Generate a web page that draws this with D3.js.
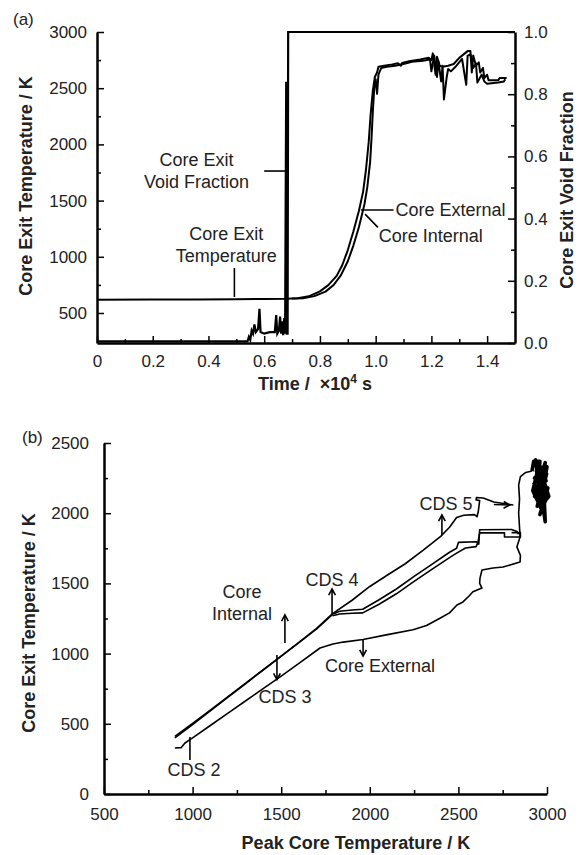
<!DOCTYPE html>
<html>
<head>
<meta charset="utf-8">
<script src="https://cdn.jsdelivr.net/npm/d3@7"></script>
<style>
  body { margin: 0; background: #fff; }
  svg { font-family: "Liberation Sans", Arial, sans-serif; }
</style>
</head>
<body>
<svg id="chart" width="586" height="855"></svg>
<script>
'use strict';

// ---- data, panel (a): time in 1e4 s ----
const timeTicks = [0, 0.2, 0.4, 0.6, 0.8, 1.0, 1.2, 1.4];
const timeMinor = [0.1, 0.3, 0.5, 0.7, 0.9, 1.1, 1.3];
const tempTicksA = [500, 1000, 1500, 2000, 2500, 3000];
const tempMinorA = [750, 1250, 1750, 2250, 2750];
const voidTicks = [0, 0.2, 0.4, 0.6, 0.8, 1.0];
const voidMinor = [0.1, 0.3, 0.5, 0.7, 0.9];

// core exit temperature, external channel [t, K]
const tempExternal = [[0, 618], [0.2, 619], [0.36, 621], [0.5, 623], [0.6, 625], [0.68, 627],
  [0.72, 632], [0.76, 648], [0.8, 692], [0.83, 748], [0.86, 830], [0.88, 925], [0.9, 1060],
  [0.92, 1225], [0.94, 1410], [0.955, 1580], [0.965, 1770], [0.975, 2020], [0.982, 2270],
  [0.99, 2480], [0.997, 2600], [1.005, 2640], [1.01, 2690], [1.03, 2700], [1.06, 2712],
  [1.08, 2722], [1.09, 2700], [1.095, 2725], [1.12, 2740], [1.16, 2755], [1.19, 2770],
  [1.2, 2750], [1.205, 2810], [1.215, 2620], [1.22, 2780], [1.23, 2700], [1.24, 2690],
  [1.26, 2700], [1.28, 2715], [1.3, 2770], [1.32, 2810], [1.33, 2830], [1.34, 2830],
  [1.345, 2640], [1.35, 2790], [1.36, 2700], [1.37, 2730], [1.375, 2640], [1.385, 2680],
  [1.39, 2590], [1.4, 2620], [1.405, 2570], [1.44, 2570], [1.445, 2590], [1.47, 2590]];

// core exit temperature, internal channel [t, K]
const tempInternal = [[0.7, 628], [0.74, 632], [0.78, 650], [0.82, 690], [0.85, 752],
  [0.875, 835], [0.9, 960], [0.92, 1100], [0.94, 1265], [0.96, 1470], [0.97, 1620],
  [0.98, 1840], [0.985, 2050], [0.99, 2300], [0.995, 2500], [1.0, 2580], [1.005, 2450],
  [1.01, 2620], [1.02, 2680], [1.04, 2690], [1.07, 2700], [1.1, 2715], [1.13, 2735],
  [1.17, 2745], [1.195, 2755], [1.2, 2650], [1.21, 2790], [1.22, 2600], [1.225, 2740],
  [1.235, 2560], [1.24, 2700], [1.245, 2400], [1.255, 2600], [1.26, 2670], [1.27, 2650],
  [1.29, 2700], [1.31, 2760], [1.325, 2530], [1.33, 2790], [1.34, 2800], [1.35, 2680],
  [1.36, 2720], [1.365, 2550], [1.38, 2620], [1.39, 2560], [1.4, 2540], [1.44, 2550],
  [1.46, 2560], [1.465, 2580]];

// core exit void fraction [t, -]
const voidFraction = [[0, 0.005], [0.3, 0.005], [0.54, 0.005], [0.545, 0.02], [0.55, 0.01],
  [0.555, 0.04], [0.56, 0.03], [0.565, 0.06], [0.57, 0.035], [0.578, 0.045], [0.583, 0.11],
  [0.587, 0.035], [0.6, 0.03], [0.62, 0.035], [0.638, 0.035], [0.643, 0.09], [0.647, 0.03],
  [0.653, 0.04], [0.657, 0.085], [0.661, 0.03], [0.665, 0.07], [0.668, 0.025], [0.672, 0.08],
  [0.675, 0.03], [0.679, 0.84], [0.681, 0.03], [0.684, 0.03], [0.686, 1.0], [1.5, 1.0]];

// ---- data, panel (b): peak core temperature vs core exit temperature ----
const peakTicks = [500, 1000, 1500, 2000, 2500, 3000];
const peakMinor = [750, 1250, 1750, 2250, 2750];
const tempTicksB = [0, 500, 1000, 1500, 2000, 2500];
const tempMinorB = [250, 750, 1250, 1750, 2250];

const internalUpper = [[900, 400], [1000, 495], [1100, 592], [1200, 690], [1300, 787],
  [1400, 885], [1500, 982], [1600, 1080], [1700, 1180], [1790, 1285], [1900, 1380],
  [2000, 1478], [2100, 1560], [2200, 1640], [2300, 1735], [2400, 1835], [2450, 1900],
  [2490, 1970], [2530, 1985], [2590, 1990], [2605, 1975], [2612, 2010], [2620, 2090],
  [2600, 2095], [2602, 2112], [2640, 2108], [2700, 2080], [2810, 2058]];

const internalLowerA = [[900, 410], [1000, 502], [1100, 598], [1200, 694], [1300, 790],
  [1400, 886], [1500, 982], [1600, 1078], [1700, 1176], [1790, 1280], [1830, 1302],
  [1900, 1310], [1960, 1316], [2050, 1382], [2150, 1460], [2250, 1550], [2350, 1636],
  [2450, 1722], [2490, 1750], [2500, 1792], [2600, 1797], [2615, 1780], [2620, 1882],
  [2800, 1884], [2830, 1870], [2840, 1850]];

const internalLowerB = [[1790, 1270], [1830, 1282], [1900, 1287], [1960, 1290], [2050, 1350],
  [2150, 1426], [2250, 1514], [2350, 1600], [2450, 1684], [2490, 1716], [2540, 1752],
  [2600, 1762], [2610, 1790], [2620, 1860], [2760, 1860], [2760, 1830], [2850, 1830],
  [2850, 1862], [2800, 1862]];

const externalCurve = [[900, 328], [935, 330], [957, 363], [1000, 400], [1100, 488],
  [1200, 576], [1300, 664], [1400, 752], [1500, 840], [1600, 930], [1719, 1040],
  [1792, 1068], [1850, 1082], [1962, 1100], [2100, 1135], [2244, 1170], [2320, 1200],
  [2396, 1252], [2450, 1290], [2492, 1346], [2526, 1368], [2560, 1410], [2582, 1440],
  [2633, 1467], [2620, 1500], [2622, 1538], [2633, 1595], [2695, 1610], [2752, 1617],
  [2848, 1652], [2850, 1700], [2830, 1760], [2848, 1830], [2845, 1900], [2840, 2000],
  [2845, 2100], [2840, 2200], [2850, 2260], [2880, 2290], [2915, 2300]];

const peakCluster = [[2915, 2300], [2925, 2370], [2960, 2370], [2950, 2200], [2990, 2360],
  [2975, 2150], [3000, 2330], [2945, 2050], [2985, 2250], [2930, 2120], [3005, 2180],
  [2960, 1990], [2995, 2100], [2950, 2280], [2990, 1940], [2985, 2080], [3010, 2120],
  [2965, 2300], [2935, 2380], [2975, 2010], [2920, 2160], [2955, 2350], [2995, 2230],
  [2940, 2300], [2970, 2200], [2930, 2250], [2980, 2330], [2945, 2150], [2998, 2280],
  [2960, 2100], [2925, 2220]];

// ---- layout ----
const svg = d3.select('#chart');

const xA = d3.scaleLinear().domain([0, 1.5]).range([97, 515]);
const yA = d3.scaleLinear().domain([233, 3000]).range([343, 32]);
const vA = d3.scaleLinear().domain([0, 1]).range([343, 32]);

const xB = d3.scaleLinear().domain([500, 3000]).range([104, 547]);
const yB = d3.scaleLinear().domain([0, 2500]).range([794, 443]);

/**
 * Axis with inward ticks plus unlabeled minor ticks
 */
function drawAxis(transform, make, scale, major, minor, format, pad) {
  const gm = svg.append('g')
    .attr('transform', transform)
    .call(make(scale).tickValues(minor).tickSize(-4).tickSizeOuter(0).tickFormat(''));
  gm.select('.domain').remove();
  gm.selectAll('line').attr('stroke-width', 1.5);

  const g = svg.append('g')
    .attr('transform', transform)
    .call(make(scale).tickValues(major).tickSize(-7).tickSizeOuter(0)
      .tickPadding(pad).tickFormat(format));
  g.attr('font-size', 17).attr('font-family', null);
  g.select('.domain').attr('stroke-width', 2.5);
  g.selectAll('line').attr('stroke-width', 1.5);
  g.selectAll('text').attr('fill', '#222');
  return g;
}

const fmtTime = d => (d === 0 ? '0' : d3.format('.1f')(d));

drawAxis('translate(0,343)', d3.axisBottom, xA, timeTicks, timeMinor, fmtTime, 12);
drawAxis('translate(97,0)', d3.axisLeft, yA, tempTicksA, tempMinorA, d3.format('d'), 10);
drawAxis('translate(515,0)', d3.axisRight, vA, voidTicks, voidMinor, d3.format('.1f'), 9);

drawAxis('translate(0,794)', d3.axisBottom, xB, peakTicks, peakMinor, d3.format('d'), 14);
drawAxis('translate(104,0)', d3.axisLeft, yB, tempTicksB, tempMinorB, d3.format('d'), 15);

// ---- panel (a) curves ----
const lineA = d3.line().x(d => xA(d[0])).y(d => yA(d[1]));
const lineV = d3.line().x(d => xA(d[0])).y(d => vA(d[1]));

[tempExternal, tempInternal].forEach(function(s) {
  svg.append('path')
    .attr('d', lineA(s))
    .attr('fill', 'none')
    .attr('stroke', '#000')
    .attr('stroke-width', 2)
    .attr('stroke-linejoin', 'round');
});

svg.append('path')
  .attr('d', lineV(voidFraction))
  .attr('fill', 'none')
  .attr('stroke', '#000')
  .attr('stroke-width', 2.2);

// ---- panel (b) curves ----
const lineB = d3.line().x(d => xB(d[0])).y(d => yB(d[1]));

[internalUpper, internalLowerA, internalLowerB, externalCurve].forEach(function(s) {
  svg.append('path')
    .attr('d', lineB(s))
    .attr('fill', 'none')
    .attr('stroke', '#000')
    .attr('stroke-width', 1.6)
    .attr('stroke-linejoin', 'round');
});

svg.append('path')
  .attr('d', lineB(peakCluster))
  .attr('fill', 'none')
  .attr('stroke', '#000')
  .attr('stroke-width', 3.6)
  .attr('stroke-linejoin', 'round');

// ---- annotations ----
function label(x, y, txt, anchor, size, bold) {
  return svg.append('text')
    .attr('x', x)
    .attr('y', y)
    .attr('text-anchor', anchor || 'start')
    .attr('font-size', size || 18)
    .attr('font-weight', bold ? 'bold' : null)
    .attr('fill', '#222')
    .text(txt);
}

function segment(x1, y1, x2, y2, w) {
  svg.append('line')
    .attr('x1', x1).attr('y1', y1).attr('x2', x2).attr('y2', y2)
    .attr('stroke', '#000')
    .attr('stroke-width', w || 1.6);
}

// arrow with open chevron head at (x2, y2)
function arrow(x1, y1, x2, y2) {
  segment(x1, y1, x2, y2);
  const a = Math.atan2(y2 - y1, x2 - x1);
  const h = 7;
  const p = [
    [x2 - h * Math.cos(a - 0.5), y2 - h * Math.sin(a - 0.5)],
    [x2, y2],
    [x2 - h * Math.cos(a + 0.5), y2 - h * Math.sin(a + 0.5)],
  ];
  svg.append('path')
    .attr('d', d3.line()(p))
    .attr('fill', 'none')
    .attr('stroke', '#000')
    .attr('stroke-width', 1.6);
}

// panel (a)
label(13, 25, '(a)', 'start', 17);
label(xA(0.357), yA(1808), 'Core Exit', 'middle');
label(xA(0.357), yA(1612), 'Void Fraction', 'middle');
segment(xA(0.6), yA(1763), xA(0.684), yA(1763));
label(xA(0.464), yA(1150), 'Core Exit', 'middle');
label(xA(0.464), yA(954), 'Temperature', 'middle');
segment(xA(0.493), yA(900), xA(0.493), yA(642));
segment(xA(0.947), yA(1416), xA(1.064), yA(1416));
label(xA(1.071), yA(1363), 'Core External');
segment(xA(0.962), yA(1380), xA(1.008), yA(1262));
label(xA(1.011), yA(1132), 'Core Internal');

svg.append('text')
  .attr('transform', 'translate(32,186) rotate(-90)')
  .attr('text-anchor', 'middle')
  .attr('font-size', 18)
  .attr('font-weight', 'bold')
  .attr('fill', '#222')
  .text('Core Exit Temperature / K');

svg.append('text')
  .attr('transform', 'translate(573,190) rotate(-90)')
  .attr('text-anchor', 'middle')
  .attr('font-size', 18)
  .attr('font-weight', 'bold')
  .attr('fill', '#222')
  .text('Core Exit Void Fraction');

const tTitle = svg.append('text')
  .attr('x', 315)
  .attr('y', 390)
  .attr('text-anchor', 'middle')
  .attr('font-size', 18)
  .attr('font-weight', 'bold')
  .attr('fill', '#222')
  .style('white-space', 'pre');
tTitle.append('tspan').text('Time /  \u00d710');
tTitle.append('tspan').attr('dy', -7).attr('font-size', 12).text('4');
tTitle.append('tspan').attr('dy', 7).text(' s');

// panel (b)
label(22, 443, '(b)', 'start', 17);

segment(xB(985), yB(406), xB(985), yB(242));
label(xB(1008), yB(128), 'CDS 2', 'middle');

arrow(xB(1476), yB(990), xB(1476), yB(815));
label(xB(1521), yB(648), 'CDS 3', 'middle');

arrow(xB(1521), yB(1075), xB(1521), yB(1275));
label(xB(1279), yB(1396), 'Core', 'middle');
label(xB(1279), yB(1239), 'Internal', 'middle');

arrow(xB(1787), yB(1282), xB(1787), yB(1460));
label(xB(1787), yB(1481), 'CDS 4', 'middle');

arrow(xB(2407), yB(1845), xB(2407), yB(1987));
label(xB(2430), yB(2023), 'CDS 5', 'middle');

arrow(xB(1962), yB(1100), xB(1962), yB(983));
label(xB(2058), yB(869), 'Core External', 'middle');

arrow(xB(2700), yB(2062), xB(2790), yB(2058));

svg.append('text')
  .attr('transform', 'translate(35,623) rotate(-90)')
  .attr('text-anchor', 'middle')
  .attr('font-size', 18)
  .attr('font-weight', 'bold')
  .attr('fill', '#222')
  .text('Core Exit Temperature / K');

label(356, 849, 'Peak Core Temperature / K', 'middle', 18, true);
</script>
</body>
</html>
